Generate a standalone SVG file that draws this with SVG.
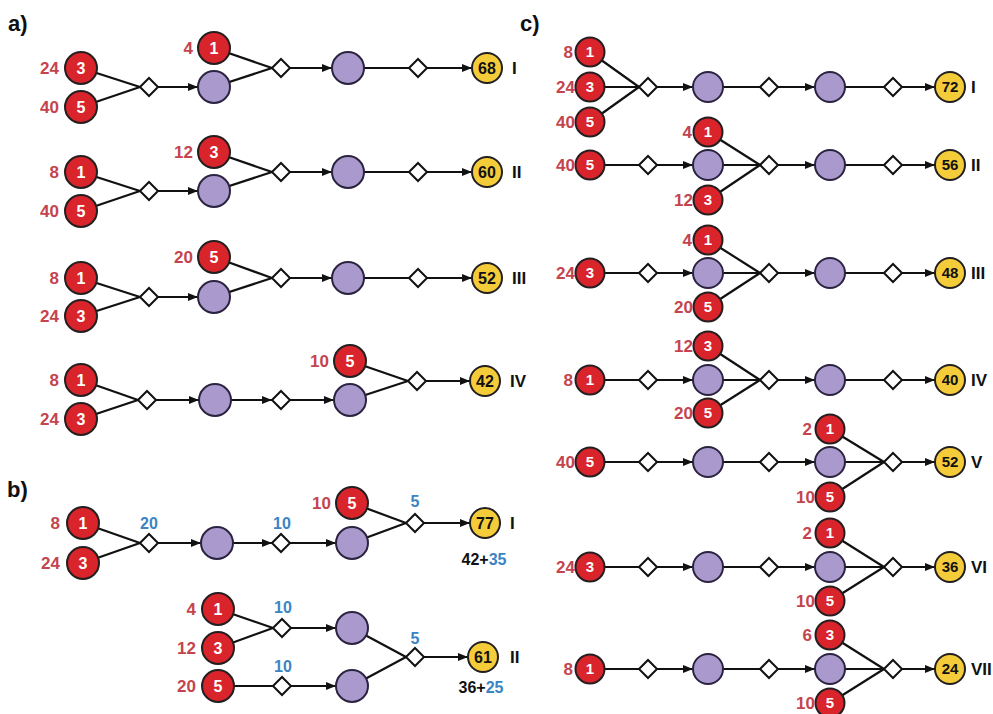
<svg xmlns="http://www.w3.org/2000/svg" width="993" height="714" viewBox="0 0 993 714">
<style>
text{font-family:"Liberation Sans",Arial,sans-serif;font-weight:bold}
.r{fill:#d8242a;stroke:#231f20;stroke-width:2}
.p{fill:#a999cd;stroke:#2b2340;stroke-width:2}
.y{fill:#f4cc3a;stroke:#231f20;stroke-width:2}
.dia{fill:#fff;stroke:#111;stroke-width:2}
.e line{stroke:#111;stroke-width:2.2}
.w{fill:#fff;font-size:16px;text-anchor:middle}
.w2{fill:#fff;font-size:15px;text-anchor:middle}
.k{fill:#111;font-size:16px;text-anchor:middle}
.k2{fill:#111;font-size:15px;text-anchor:middle}
.lb{fill:#c4444e;font-size:17px;text-anchor:end}
.bl{fill:#3b84c4;font-size:16px;text-anchor:middle}
.rm{fill:#111;font-size:17px}
.pn{fill:#111;font-size:22px}
.sum{fill:#111;font-size:16px;text-anchor:middle}
</style>
<defs>
<marker id="ah" markerUnits="userSpaceOnUse" markerWidth="10" markerHeight="8" refX="10" refY="4" orient="auto"><path d="M0,0 L10,4 L0,8 Z" fill="#111"/></marker>
<path id="dm" class="dia" d="M-9,0 L0,-9 L9,0 L0,9 Z"/>
</defs>
<g id="panel-labels">
<text class="pn" x="8" y="31">a)</text>
<text class="pn" x="7" y="497">b)</text>
<text class="pn" x="520" y="31">c)</text>
</g>
<g id="connectors" class="e">
<line x1="81" y1="68" x2="140" y2="87"/><line x1="81" y1="107" x2="140" y2="87"/>
<line x1="158" y1="87" x2="198" y2="87" marker-end="url(#ah)"/>
<line x1="214" y1="48" x2="272" y2="68"/><line x1="214" y1="87" x2="272" y2="68"/>
<line x1="290" y1="68" x2="332" y2="68" marker-end="url(#ah)"/>
<line x1="348" y1="68" x2="409" y2="68"/>
<line x1="427" y1="68" x2="472" y2="68" marker-end="url(#ah)"/>
<line x1="81" y1="172" x2="140" y2="191"/><line x1="81" y1="211" x2="140" y2="191"/>
<line x1="158" y1="191" x2="198" y2="191" marker-end="url(#ah)"/>
<line x1="214" y1="152" x2="272" y2="172"/><line x1="214" y1="191" x2="272" y2="172"/>
<line x1="290" y1="172" x2="332" y2="172" marker-end="url(#ah)"/>
<line x1="348" y1="172" x2="409" y2="172"/>
<line x1="427" y1="172" x2="472" y2="172" marker-end="url(#ah)"/>
<line x1="81" y1="278" x2="140" y2="297"/><line x1="81" y1="316" x2="140" y2="297"/>
<line x1="158" y1="297" x2="198" y2="297" marker-end="url(#ah)"/>
<line x1="214" y1="257" x2="272" y2="278"/><line x1="214" y1="297" x2="272" y2="278"/>
<line x1="290" y1="278" x2="332" y2="278" marker-end="url(#ah)"/>
<line x1="348" y1="278" x2="409" y2="278"/>
<line x1="427" y1="278" x2="472" y2="278" marker-end="url(#ah)"/>
<line x1="81" y1="380" x2="138" y2="400"/><line x1="81" y1="419" x2="138" y2="400"/>
<line x1="156" y1="400" x2="199" y2="400" marker-end="url(#ah)"/>
<line x1="231" y1="400" x2="272" y2="400" marker-end="url(#ah)"/>
<line x1="290" y1="400" x2="334" y2="400" marker-end="url(#ah)"/>
<line x1="350" y1="361" x2="408" y2="381"/><line x1="350" y1="400" x2="408" y2="381"/>
<line x1="426" y1="381" x2="470" y2="381" marker-end="url(#ah)"/>
<line x1="83" y1="523" x2="140" y2="543"/><line x1="83" y1="563" x2="140" y2="543"/>
<line x1="158" y1="543" x2="201" y2="543" marker-end="url(#ah)"/>
<line x1="233" y1="543" x2="272" y2="543" marker-end="url(#ah)"/>
<line x1="290" y1="543" x2="336" y2="543" marker-end="url(#ah)"/>
<line x1="352" y1="503" x2="406" y2="523"/><line x1="352" y1="543" x2="406" y2="523"/>
<line x1="424" y1="523" x2="470" y2="523" marker-end="url(#ah)"/>
<line x1="218" y1="609" x2="273" y2="628"/><line x1="218" y1="648" x2="273" y2="628"/>
<line x1="291" y1="628" x2="336" y2="628" marker-end="url(#ah)"/>
<line x1="218" y1="686" x2="273" y2="686"/>
<line x1="291" y1="686" x2="336" y2="686" marker-end="url(#ah)"/>
<line x1="352" y1="628" x2="406" y2="657"/><line x1="352" y1="686" x2="406" y2="657"/>
<line x1="424" y1="657" x2="468" y2="657" marker-end="url(#ah)"/>
<line x1="590" y1="52" x2="639" y2="87"/><line x1="590" y1="87" x2="639" y2="87"/><line x1="590" y1="122" x2="639" y2="87"/>
<line x1="657" y1="87" x2="693" y2="87" marker-end="url(#ah)"/>
<line x1="723" y1="87" x2="760" y2="87"/>
<line x1="778" y1="87" x2="815" y2="87" marker-end="url(#ah)"/>
<line x1="845" y1="87" x2="884" y2="87"/>
<line x1="902" y1="87" x2="935" y2="87" marker-end="url(#ah)"/>
<line x1="590" y1="165" x2="639" y2="165"/>
<line x1="657" y1="165" x2="693" y2="165" marker-end="url(#ah)"/>
<line x1="708" y1="132" x2="760" y2="165"/><line x1="708" y1="165" x2="760" y2="165"/><line x1="708" y1="200" x2="760" y2="165"/>
<line x1="778" y1="165" x2="815" y2="165" marker-end="url(#ah)"/>
<line x1="845" y1="165" x2="884" y2="165"/>
<line x1="902" y1="165" x2="935" y2="165" marker-end="url(#ah)"/>
<line x1="590" y1="273" x2="639" y2="273"/>
<line x1="657" y1="273" x2="693" y2="273" marker-end="url(#ah)"/>
<line x1="708" y1="240" x2="760" y2="273"/><line x1="708" y1="273" x2="760" y2="273"/><line x1="708" y1="307" x2="760" y2="273"/>
<line x1="778" y1="273" x2="815" y2="273" marker-end="url(#ah)"/>
<line x1="845" y1="273" x2="884" y2="273"/>
<line x1="902" y1="273" x2="935" y2="273" marker-end="url(#ah)"/>
<line x1="590" y1="380" x2="639" y2="380"/>
<line x1="657" y1="380" x2="693" y2="380" marker-end="url(#ah)"/>
<line x1="708" y1="346" x2="760" y2="380"/><line x1="708" y1="380" x2="760" y2="380"/><line x1="708" y1="413" x2="760" y2="380"/>
<line x1="778" y1="380" x2="815" y2="380" marker-end="url(#ah)"/>
<line x1="845" y1="380" x2="884" y2="380"/>
<line x1="902" y1="380" x2="935" y2="380" marker-end="url(#ah)"/>
<line x1="590" y1="462" x2="639" y2="462"/>
<line x1="657" y1="462" x2="693" y2="462" marker-end="url(#ah)"/>
<line x1="723" y1="462" x2="760" y2="462"/>
<line x1="778" y1="462" x2="815" y2="462" marker-end="url(#ah)"/>
<line x1="830" y1="429" x2="884" y2="462"/><line x1="830" y1="462" x2="884" y2="462"/><line x1="830" y1="497" x2="884" y2="462"/>
<line x1="902" y1="462" x2="935" y2="462" marker-end="url(#ah)"/>
<line x1="590" y1="567" x2="639" y2="567"/>
<line x1="657" y1="567" x2="693" y2="567" marker-end="url(#ah)"/>
<line x1="723" y1="567" x2="760" y2="567"/>
<line x1="778" y1="567" x2="815" y2="567" marker-end="url(#ah)"/>
<line x1="830" y1="533" x2="884" y2="567"/><line x1="830" y1="567" x2="884" y2="567"/><line x1="830" y1="601" x2="884" y2="567"/>
<line x1="902" y1="567" x2="935" y2="567" marker-end="url(#ah)"/>
<line x1="590" y1="669" x2="639" y2="669"/>
<line x1="657" y1="669" x2="693" y2="669" marker-end="url(#ah)"/>
<line x1="723" y1="669" x2="760" y2="669"/>
<line x1="778" y1="669" x2="815" y2="669" marker-end="url(#ah)"/>
<line x1="830" y1="635" x2="884" y2="669"/><line x1="830" y1="669" x2="884" y2="669"/><line x1="830" y1="703" x2="884" y2="669"/>
<line x1="902" y1="669" x2="935" y2="669" marker-end="url(#ah)"/>
</g>
<g id="a1">
<g id="a1-r3"><circle class="r" cx="81" cy="68" r="16"/><text class="w" x="81" y="74">3</text><text class="lb" x="59" y="74">24</text></g>
<g id="a1-r5"><circle class="r" cx="81" cy="107" r="16"/><text class="w" x="81" y="113">5</text><text class="lb" x="59" y="113">40</text></g>
<g id="a1-d1"><use href="#dm" x="149" y="87"/></g>
<g id="a1-p1"><circle class="p" cx="214" cy="87" r="16"/></g>
<g id="a1-r1"><circle class="r" cx="214" cy="48" r="16"/><text class="w" x="214" y="54">1</text><text class="lb" x="193" y="54">4</text></g>
<g id="a1-d2"><use href="#dm" x="281" y="68"/></g>
<g id="a1-p2"><circle class="p" cx="348" cy="68" r="16"/></g>
<g id="a1-d3"><use href="#dm" x="418" y="68"/></g>
<g id="a1-y"><circle class="y" cx="487" cy="68" r="15"/><text class="k" x="487" y="74">68</text><text class="rm" x="512" y="74">I</text></g>
</g>
<g id="a2">
<g id="a2-r1"><circle class="r" cx="81" cy="172" r="16"/><text class="w" x="81" y="178">1</text><text class="lb" x="59" y="178">8</text></g>
<g id="a2-r5"><circle class="r" cx="81" cy="211" r="16"/><text class="w" x="81" y="217">5</text><text class="lb" x="59" y="217">40</text></g>
<g id="a2-d1"><use href="#dm" x="149" y="191"/></g>
<g id="a2-p1"><circle class="p" cx="214" cy="191" r="16"/></g>
<g id="a2-r3"><circle class="r" cx="214" cy="152" r="16"/><text class="w" x="214" y="158">3</text><text class="lb" x="193" y="158">12</text></g>
<g id="a2-d2"><use href="#dm" x="281" y="172"/></g>
<g id="a2-p2"><circle class="p" cx="348" cy="172" r="16"/></g>
<g id="a2-d3"><use href="#dm" x="418" y="172"/></g>
<g id="a2-y"><circle class="y" cx="487" cy="172" r="15"/><text class="k" x="487" y="178">60</text><text class="rm" x="512" y="178">II</text></g>
</g>
<g id="a3">
<g id="a3-r1"><circle class="r" cx="81" cy="278" r="16"/><text class="w" x="81" y="284">1</text><text class="lb" x="59" y="284">8</text></g>
<g id="a3-r3"><circle class="r" cx="81" cy="316" r="16"/><text class="w" x="81" y="322">3</text><text class="lb" x="59" y="322">24</text></g>
<g id="a3-d1"><use href="#dm" x="149" y="297"/></g>
<g id="a3-p1"><circle class="p" cx="214" cy="297" r="16"/></g>
<g id="a3-r5"><circle class="r" cx="214" cy="257" r="16"/><text class="w" x="214" y="263">5</text><text class="lb" x="193" y="263">20</text></g>
<g id="a3-d2"><use href="#dm" x="281" y="278"/></g>
<g id="a3-p2"><circle class="p" cx="348" cy="278" r="16"/></g>
<g id="a3-d3"><use href="#dm" x="418" y="278"/></g>
<g id="a3-y"><circle class="y" cx="487" cy="278" r="15"/><text class="k" x="487" y="284">52</text><text class="rm" x="512" y="284">III</text></g>
</g>
<g id="a4">
<g id="a4-r1"><circle class="r" cx="81" cy="380" r="16"/><text class="w" x="81" y="386">1</text><text class="lb" x="59" y="386">8</text></g>
<g id="a4-r3"><circle class="r" cx="81" cy="419" r="16"/><text class="w" x="81" y="425">3</text><text class="lb" x="59" y="425">24</text></g>
<g id="a4-d1"><use href="#dm" x="147" y="400"/></g>
<g id="a4-p1"><circle class="p" cx="215" cy="400" r="16"/></g>
<g id="a4-d2"><use href="#dm" x="281" y="400"/></g>
<g id="a4-p2"><circle class="p" cx="350" cy="400" r="16"/></g>
<g id="a4-r5"><circle class="r" cx="350" cy="361" r="16"/><text class="w" x="350" y="367">5</text><text class="lb" x="329" y="367">10</text></g>
<g id="a4-d3"><use href="#dm" x="417" y="381"/></g>
<g id="a4-y"><circle class="y" cx="485" cy="381" r="15"/><text class="k" x="485" y="387">42</text><text class="rm" x="510" y="387">IV</text></g>
</g>
<g id="b1">
<g id="b1-r1"><circle class="r" cx="83" cy="523" r="16"/><text class="w" x="83" y="529">1</text><text class="lb" x="60" y="529">8</text></g>
<g id="b1-r3"><circle class="r" cx="83" cy="563" r="16"/><text class="w" x="83" y="569">3</text><text class="lb" x="60" y="569">24</text></g>
<g id="b1-d1"><use href="#dm" x="149" y="543"/><text class="bl" x="149" y="529">20</text></g>
<g id="b1-p1"><circle class="p" cx="217" cy="543" r="16"/></g>
<g id="b1-d2"><use href="#dm" x="281" y="543"/><text class="bl" x="282" y="529">10</text></g>
<g id="b1-p2"><circle class="p" cx="352" cy="543" r="16"/></g>
<g id="b1-r5"><circle class="r" cx="352" cy="503" r="16"/><text class="w" x="352" y="509">5</text><text class="lb" x="331" y="509">10</text></g>
<g id="b1-d3"><use href="#dm" x="415" y="523"/><text class="bl" x="415" y="507">5</text></g>
<g id="b1-y"><circle class="y" cx="485" cy="523" r="15"/><text class="k" x="485" y="529">77</text><text class="rm" x="510" y="529">I</text>
<text class="sum" x="484" y="565">42+<tspan fill="#3b84c4">35</tspan></text></g>
</g>
<g id="b2">
<g id="b2-r1"><circle class="r" cx="218" cy="609" r="16"/><text class="w" x="218" y="615">1</text><text class="lb" x="196" y="615">4</text></g>
<g id="b2-r3"><circle class="r" cx="218" cy="648" r="16"/><text class="w" x="218" y="654">3</text><text class="lb" x="196" y="654">12</text></g>
<g id="b2-r5"><circle class="r" cx="218" cy="686" r="16"/><text class="w" x="218" y="692">5</text><text class="lb" x="196" y="692">20</text></g>
<g id="b2-d1"><use href="#dm" x="282" y="628"/><text class="bl" x="283" y="613">10</text></g>
<g id="b2-d2"><use href="#dm" x="282" y="686"/><text class="bl" x="283" y="672">10</text></g>
<g id="b2-p1"><circle class="p" cx="352" cy="628" r="16"/></g>
<g id="b2-p2"><circle class="p" cx="352" cy="686" r="16"/></g>
<g id="b2-d3"><use href="#dm" x="415" y="657"/><text class="bl" x="415" y="644">5</text></g>
<g id="b2-y"><circle class="y" cx="483" cy="657" r="15"/><text class="k" x="483" y="663">61</text><text class="rm" x="510" y="663">II</text>
<text class="sum" x="481" y="693">36+<tspan fill="#3b84c4">25</tspan></text></g>
</g>
<g id="c1">
<g id="c1-r1"><circle class="r" cx="590" cy="52" r="14.5"/><text class="w2" x="590" y="57">1</text><text class="lb" x="573" y="58">8</text></g>
<g id="c1-r3"><circle class="r" cx="590" cy="87" r="14.5"/><text class="w2" x="590" y="92">3</text><text class="lb" x="575" y="93">24</text></g>
<g id="c1-r5"><circle class="r" cx="590" cy="122" r="14.5"/><text class="w2" x="590" y="127">5</text><text class="lb" x="575" y="128">40</text></g>
<g id="c1-d1"><use href="#dm" x="648" y="87"/></g>
<g id="c1-p1"><circle class="p" cx="708" cy="87" r="15"/></g>
<g id="c1-d2"><use href="#dm" x="769" y="87"/></g>
<g id="c1-p2"><circle class="p" cx="830" cy="87" r="15"/></g>
<g id="c1-d3"><use href="#dm" x="893" y="87"/></g>
<g id="c1-y"><circle class="y" cx="950" cy="87" r="15"/><text class="k2" x="950" y="92">72</text><text class="rm" x="971" y="93">I</text></g>
</g>
<g id="c2">
<g id="c2-r5"><circle class="r" cx="590" cy="165" r="14.5"/><text class="w2" x="590" y="170">5</text><text class="lb" x="575" y="171">40</text></g>
<g id="c2-d1"><use href="#dm" x="648" y="165"/></g>
<g id="c2-p1"><circle class="p" cx="708" cy="165" r="15"/></g>
<g id="c2-r1"><circle class="r" cx="708" cy="132" r="14.5"/><text class="w2" x="708" y="137">1</text><text class="lb" x="692" y="138">4</text></g>
<g id="c2-r3"><circle class="r" cx="708" cy="200" r="14.5"/><text class="w2" x="708" y="205">3</text><text class="lb" x="693" y="206">12</text></g>
<g id="c2-d2"><use href="#dm" x="769" y="165"/></g>
<g id="c2-p2"><circle class="p" cx="830" cy="165" r="15"/></g>
<g id="c2-d3"><use href="#dm" x="893" y="165"/></g>
<g id="c2-y"><circle class="y" cx="950" cy="165" r="15"/><text class="k2" x="950" y="170">56</text><text class="rm" x="971" y="171">II</text></g>
</g>
<g id="c3">
<g id="c3-r3"><circle class="r" cx="590" cy="273" r="14.5"/><text class="w2" x="590" y="278">3</text><text class="lb" x="575" y="279">24</text></g>
<g id="c3-d1"><use href="#dm" x="648" y="273"/></g>
<g id="c3-p1"><circle class="p" cx="708" cy="273" r="15"/></g>
<g id="c3-r1"><circle class="r" cx="708" cy="240" r="14.5"/><text class="w2" x="708" y="245">1</text><text class="lb" x="692" y="246">4</text></g>
<g id="c3-r5"><circle class="r" cx="708" cy="307" r="14.5"/><text class="w2" x="708" y="312">5</text><text class="lb" x="693" y="313">20</text></g>
<g id="c3-d2"><use href="#dm" x="769" y="273"/></g>
<g id="c3-p2"><circle class="p" cx="830" cy="273" r="15"/></g>
<g id="c3-d3"><use href="#dm" x="893" y="273"/></g>
<g id="c3-y"><circle class="y" cx="950" cy="273" r="15"/><text class="k2" x="950" y="278">48</text><text class="rm" x="971" y="279">III</text></g>
</g>
<g id="c4">
<g id="c4-r1"><circle class="r" cx="590" cy="380" r="14.5"/><text class="w2" x="590" y="385">1</text><text class="lb" x="573" y="386">8</text></g>
<g id="c4-d1"><use href="#dm" x="648" y="380"/></g>
<g id="c4-p1"><circle class="p" cx="708" cy="380" r="15"/></g>
<g id="c4-r3"><circle class="r" cx="708" cy="346" r="14.5"/><text class="w2" x="708" y="351">3</text><text class="lb" x="693" y="352">12</text></g>
<g id="c4-r5"><circle class="r" cx="708" cy="413" r="14.5"/><text class="w2" x="708" y="418">5</text><text class="lb" x="693" y="419">20</text></g>
<g id="c4-d2"><use href="#dm" x="769" y="380"/></g>
<g id="c4-p2"><circle class="p" cx="830" cy="380" r="15"/></g>
<g id="c4-d3"><use href="#dm" x="893" y="380"/></g>
<g id="c4-y"><circle class="y" cx="950" cy="380" r="15"/><text class="k2" x="950" y="385">40</text><text class="rm" x="971" y="386">IV</text></g>
</g>
<g id="c5">
<g id="c5-r5"><circle class="r" cx="590" cy="462" r="14.5"/><text class="w2" x="590" y="467">5</text><text class="lb" x="575" y="468">40</text></g>
<g id="c5-d1"><use href="#dm" x="648" y="462"/></g>
<g id="c5-p1"><circle class="p" cx="708" cy="462" r="15"/></g>
<g id="c5-d2"><use href="#dm" x="769" y="462"/></g>
<g id="c5-p2"><circle class="p" cx="830" cy="462" r="15"/></g>
<g id="c5-r1"><circle class="r" cx="830" cy="429" r="14.5"/><text class="w2" x="830" y="434">1</text><text class="lb" x="812" y="435">2</text></g>
<g id="c5-r5b"><circle class="r" cx="830" cy="497" r="14.5"/><text class="w2" x="830" y="502">5</text><text class="lb" x="815" y="503">10</text></g>
<g id="c5-d3"><use href="#dm" x="893" y="462"/></g>
<g id="c5-y"><circle class="y" cx="950" cy="462" r="15"/><text class="k2" x="950" y="467">52</text><text class="rm" x="971" y="468">V</text></g>
</g>
<g id="c6">
<g id="c6-r3"><circle class="r" cx="590" cy="567" r="14.5"/><text class="w2" x="590" y="572">3</text><text class="lb" x="575" y="573">24</text></g>
<g id="c6-d1"><use href="#dm" x="648" y="567"/></g>
<g id="c6-p1"><circle class="p" cx="708" cy="567" r="15"/></g>
<g id="c6-d2"><use href="#dm" x="769" y="567"/></g>
<g id="c6-p2"><circle class="p" cx="830" cy="567" r="15"/></g>
<g id="c6-r1"><circle class="r" cx="830" cy="533" r="14.5"/><text class="w2" x="830" y="538">1</text><text class="lb" x="812" y="539">2</text></g>
<g id="c6-r5"><circle class="r" cx="830" cy="601" r="14.5"/><text class="w2" x="830" y="606">5</text><text class="lb" x="815" y="607">10</text></g>
<g id="c6-d3"><use href="#dm" x="893" y="567"/></g>
<g id="c6-y"><circle class="y" cx="950" cy="567" r="15"/><text class="k2" x="950" y="572">36</text><text class="rm" x="971" y="573">VI</text></g>
</g>
<g id="c7">
<g id="c7-r1"><circle class="r" cx="590" cy="669" r="14.5"/><text class="w2" x="590" y="674">1</text><text class="lb" x="573" y="675">8</text></g>
<g id="c7-d1"><use href="#dm" x="648" y="669"/></g>
<g id="c7-p1"><circle class="p" cx="708" cy="669" r="15"/></g>
<g id="c7-d2"><use href="#dm" x="769" y="669"/></g>
<g id="c7-p2"><circle class="p" cx="830" cy="669" r="15"/></g>
<g id="c7-r3"><circle class="r" cx="830" cy="635" r="14.5"/><text class="w2" x="830" y="640">3</text><text class="lb" x="812" y="641">6</text></g>
<g id="c7-r5"><circle class="r" cx="830" cy="703" r="14.5"/><text class="w2" x="830" y="708">5</text><text class="lb" x="815" y="709">10</text></g>
<g id="c7-d3"><use href="#dm" x="893" y="669"/></g>
<g id="c7-y"><circle class="y" cx="950" cy="669" r="15"/><text class="k2" x="950" y="674">24</text><text class="rm" x="971" y="675">VII</text></g>
</g>
</svg>
